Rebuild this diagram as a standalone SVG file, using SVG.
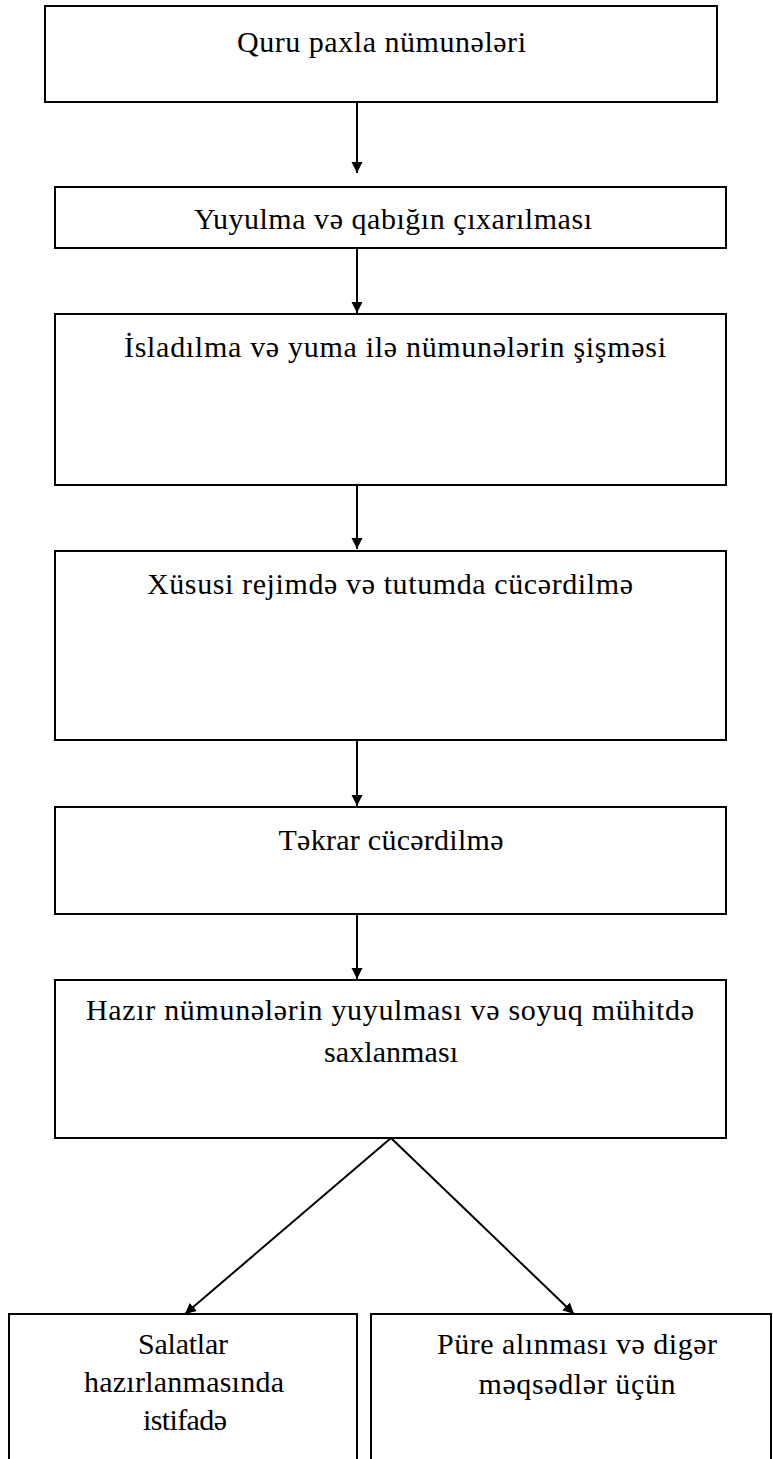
<svg xmlns="http://www.w3.org/2000/svg" width="773" height="1459" viewBox="0 0 773 1459">
<style>
.box{fill:#fff;stroke:#000;stroke-width:2}
.t{font-family:"Liberation Serif","Times New Roman",serif;font-size:30px;fill:#000;text-anchor:middle}
.c{stroke:#000;stroke-width:2;fill:none;marker-end:url(#ah)}
</style>
<defs>
<marker id="ah" markerUnits="userSpaceOnUse" markerWidth="12" markerHeight="12" refX="11" refY="5.5" orient="auto">
<path d="M0,0 L11,5.5 L0,11 Z" fill="#000"/>
</marker>
</defs>
<rect width="773" height="1459" fill="#fff"/>
<g id="connectors">
<line class="c" x1="357" y1="102" x2="357" y2="173"/>
<line class="c" x1="357" y1="248" x2="357" y2="313"/>
<line class="c" x1="357" y1="485" x2="357" y2="549"/>
<line class="c" x1="357" y1="740" x2="357" y2="806"/>
<line class="c" x1="357" y1="914" x2="357" y2="979"/>
<line class="c" x1="391" y1="1138" x2="185" y2="1314"/>
<line class="c" x1="391" y1="1138" x2="574" y2="1314"/>
</g>
<g id="n1">
<rect class="box" x="45" y="6" width="672" height="96"/>
<text class="t" x="381.5" y="52" textLength="289">Quru paxla nümunələri</text>
</g>
<g id="n2">
<rect class="box" x="55" y="187" width="671" height="61"/>
<text class="t" x="393" y="229" textLength="398">Yuyulma və qabığın çıxarılması</text>
</g>
<g id="n3">
<rect class="box" x="55" y="314" width="671" height="171"/>
<text class="t" x="395" y="357" textLength="542">İsladılma və yuma ilə nümunələrin şişməsi</text>
</g>
<g id="n4">
<rect class="box" x="55" y="551" width="671" height="189"/>
<text class="t" x="390" y="594" textLength="486">Xüsusi rejimdə və tutumda cücərdilmə</text>
</g>
<g id="n5">
<rect class="box" x="55" y="807" width="671" height="107"/>
<text class="t" x="391" y="850" textLength="225">Təkrar cücərdilmə</text>
</g>
<g id="n6">
<rect class="box" x="55" y="980" width="671" height="158"/>
<text class="t" x="390" y="1020" textLength="608">Hazır nümunələrin yuyulması və soyuq mühitdə</text>
<text class="t" x="391" y="1062" textLength="134">saxlanması</text>
</g>
<g id="n7">
<rect class="box" x="9" y="1314" width="348" height="160"/>
<text class="t" x="183" y="1354" textLength="90">Salatlar</text>
<text class="t" x="184" y="1392" textLength="200">hazırlanmasında</text>
<text class="t" x="185" y="1430" textLength="84">istifadə</text>
</g>
<g id="n8">
<rect class="box" x="371" y="1314" width="400" height="160"/>
<text class="t" x="577" y="1354" textLength="280">Püre alınması və digər</text>
<text class="t" x="577" y="1394" textLength="197">məqsədlər üçün</text>
</g>
</svg>
